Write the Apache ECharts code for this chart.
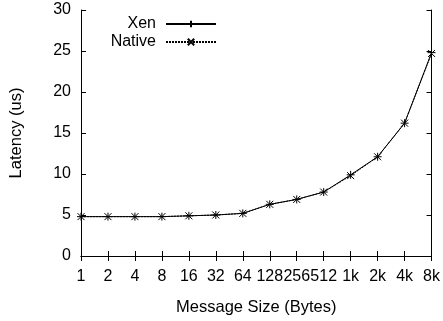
<!DOCTYPE html>
<html>
<head>
<meta charset="utf-8">
<script src="https://cdn.jsdelivr.net/npm/echarts@6/dist/echarts.min.js"></script>
<style>
  html, body { margin: 0; padding: 0; background: #fff; }
  #chart { width: 443px; height: 321px; }
</style>
</head>
<body>
<div id="chart"></div>
<script>
// message sizes along the x axis
const sizes = ["1", "2", "4", "8", "16", "32", "64", "128", "256", "512", "1k", "2k", "4k", "8k"];
// latency in microseconds
const xenLatency = [4.8, 4.8, 4.8, 4.8, 4.9, 5.0, 5.2, 6.3, 6.9, 7.8, 9.9, 12.1, 16.2, 24.8];
const nativeLatency = [4.8, 4.8, 4.8, 4.8, 4.9, 5.0, 5.2, 6.3, 6.9, 7.8, 9.8, 12.1, 16.2, 24.7];

const font = "Liberation Sans";
const plusPath = "path://M0,5L10,5M5,0L5,10";
const crossPath = "path://M0,0L10,10M10,0L0,10";

const chart = echarts.init(document.getElementById("chart"));

const axisLine = { show: true, lineStyle: { color: "#000", width: 1 } };

chart.setOption({
  animation: false,
  grid: { left: 80, right: 9, top: 10, bottom: 63 },
  legend: {
    orient: "vertical",
    right: 221,
    top: 11,
    align: "right",
    itemWidth: 50,
    itemHeight: 8,
    itemGap: 2,
    textStyle: { fontFamily: font, fontSize: 16, color: "#000", padding: [0, 5, 0, 0] },
    data: ["Xen", "Native"],
  },
  xAxis: [
    {
      type: "category",
      data: sizes,
      boundaryGap: false,
      axisLine: axisLine,
      axisTick: { show: true, inside: true, length: 5, alignWithLabel: true, lineStyle: { color: "#000" } },
      axisLabel: { color: "#000", fontFamily: font, fontSize: 16, margin: 13, interval: 0 },
      splitLine: { show: false },
      name: "Message Size (Bytes)",
      nameLocation: "middle",
      nameGap: 43,
      nameTextStyle: { color: "#000", fontFamily: font, fontSize: 16.5 },
    },
    {
      type: "category",
      data: sizes,
      boundaryGap: false,
      position: "top",
      axisLine: axisLine,
      axisTick: { show: true, inside: true, length: 5, lineStyle: { color: "#000" } },
      axisLabel: { show: false },
      splitLine: { show: false },
    },
  ],
  yAxis: [
    {
      type: "value",
      min: 0,
      max: 30,
      interval: 5,
      axisLine: axisLine,
      axisTick: { show: true, inside: true, length: 5, lineStyle: { color: "#000" } },
      axisLabel: { color: "#000", fontFamily: font, fontSize: 16, margin: 10 },
      splitLine: { show: false },
      name: "Latency (us)",
      nameLocation: "middle",
      nameGap: 56,
      nameTextStyle: { color: "#000", fontFamily: font, fontSize: 16.5 },
    },
    {
      type: "value",
      min: 0,
      max: 30,
      interval: 5,
      position: "right",
      axisLine: axisLine,
      axisTick: { show: true, inside: true, length: 5, lineStyle: { color: "#000" } },
      axisLabel: { show: false },
      splitLine: { show: false },
    },
  ],
  series: [
    {
      name: "Xen",
      type: "line",
      data: xenLatency,
      symbol: plusPath,
      symbolSize: 8,
      showAllSymbol: true,
      lineStyle: { color: "#000", width: 1 },
      itemStyle: { color: "none", borderColor: "#000", borderWidth: 1 },
    },
    {
      name: "Native",
      type: "line",
      data: nativeLatency,
      symbol: crossPath,
      symbolSize: 7,
      showAllSymbol: true,
      lineStyle: { color: "#000", width: 1, type: [2, 1] },
      itemStyle: { color: "none", borderColor: "#000", borderWidth: 1 },
    },
  ],
});
</script>
</body>
</html>
